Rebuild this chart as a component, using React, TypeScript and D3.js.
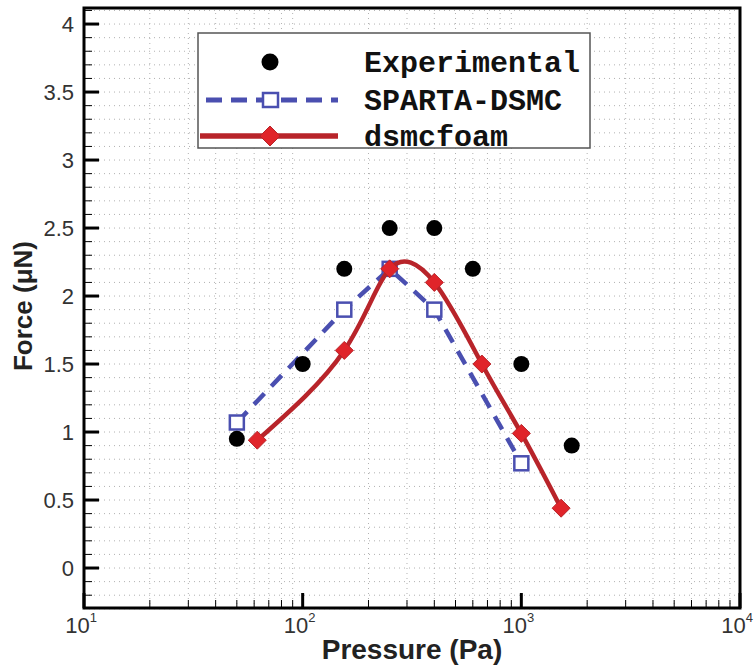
import React from "react";
import * as d3 from "d3";

const expX = [50, 100, 155, 250, 400, 600, 1000, 1700];
const expY = [0.95, 1.5, 2.2, 2.5, 2.5, 2.2, 1.5, 0.9];
const spartaX = [50, 155, 250, 400, 1000];
const spartaY = [1.07, 1.9, 2.2, 1.9, 0.77];
const foamX = [62, 155, 250, 400, 660, 1000, 1520];
const foamY = [0.94, 1.6, 2.2, 2.1, 1.5, 0.99, 0.44];
const yTicks = [0, 0.5, 1, 1.5, 2, 2.5, 3, 3.5, 4];
const xTickExps = [1, 2, 3, 4];
const legendLabels = ["Experimental", "SPARTA-DSMC", "dsmcfoam"];

const W = 756, H = 668;
const L = 84, R = 740, T = 8, B = 608;

export default function App() {
  const x = d3.scaleLog().domain([10, 10000]).range([L, R]);
  const y = d3.scaleLinear().domain([-0.294, 4.118]).range([B, T]);

  const xMinor: number[] = [];
  for (let e = 1; e < 4; e++) for (let k = 2; k <= 9; k++) xMinor.push(k * Math.pow(10, e));
  const yMinor: number[] = d3.range(-2, 42).map((i) => i / 10).filter((v) => Math.abs(v * 2 - Math.round(v * 2)) > 1e-6);

  const lineSparta = d3.line<number>().x((_, i) => x(spartaX[i])).y((d) => y(d));
  const lineFoam = d3.line<number>().x((_, i) => x(foamX[i])).y((d) => y(d)).curve(d3.curveNatural);

  const blue = "#4a4fb0";
  const red = "#b8242a";
  const redFill = "#e0242a";
  const tickColor = "#333";

  const diamond = (cx: number, cy: number, r: number) =>
    `M${cx},${cy - r}L${cx + r},${cy}L${cx},${cy + r}L${cx - r},${cy}Z`;

  const legX = 198, legY = 33, legW = 392, legH = 115;
  const rowY = [62, 100, 136];

  return (
    <svg width={W} height={H} style={{ position: "absolute", left: 0, top: 0, background: "#fff" }}>
      <rect x={0} y={0} width={W} height={H} fill="#fff" />
      {/* grid */}
      <g stroke="#8a8a8a" strokeWidth={1} strokeDasharray="1 4" opacity={0.65}>
        {xMinor.map((v) => (
          <line key={"gx" + v} x1={x(v)} x2={x(v)} y1={T} y2={B} />
        ))}
        {d3.range(-3, 42).map((i) => i / 10).map((v) => (
          <line key={"gy" + v} x1={L} x2={R} y1={y(v)} y2={y(v)} />
        ))}
      </g>
      {/* ticks */}
      <g stroke="#000">
        {yTicks.map((v) => (
          <line key={"yt" + v} x1={L} x2={L + 15} y1={y(v)} y2={y(v)} strokeWidth={3} />
        ))}
        {yMinor.map((v) => (
          <line key={"ym" + v} x1={L} x2={L + 8} y1={y(v)} y2={y(v)} strokeWidth={1} />
        ))}
        {xTickExps.map((e) => (
          <line key={"xt" + e} x1={x(Math.pow(10, e))} x2={x(Math.pow(10, e))} y1={B} y2={B - 15} strokeWidth={3} />
        ))}
        {xMinor.map((v) => (
          <line key={"xm" + v} x1={x(v)} x2={x(v)} y1={B} y2={B - 8} strokeWidth={1} />
        ))}
      </g>
      <rect x={L} y={T} width={R - L} height={B - T} fill="none" stroke="#000" strokeWidth={3} />
      {/* tick labels */}
      <g fontFamily="Liberation Sans, Arial, sans-serif" fill={tickColor} fontSize={22}>
        {yTicks.map((v) => (
          <text key={"yl" + v} x={L - 10} y={y(v)} dy="0.36em" textAnchor="end">
            {String(v)}
          </text>
        ))}
        {xTickExps.map((e) => (
          <text key={"xl" + e} x={x(Math.pow(10, e)) - 3} y={B + 25} textAnchor="middle">
            10
            <tspan fontSize={13} dy={-11}>{e}</tspan>
          </text>
        ))}
      </g>
      {/* axis titles */}
      <text x={412} y={659} textAnchor="middle" fontFamily="Liberation Sans, Arial, sans-serif" fontWeight="bold" fontSize={28} fill="#222">
        Pressure (Pa)
      </text>
      <text transform={`translate(32,306) rotate(-90)`} textAnchor="middle" fontFamily="Liberation Sans, Arial, sans-serif" fontWeight="bold" fontSize={26} fill="#222">
        Force (μN)
      </text>
      {/* SPARTA */}
      <path d={lineSparta(spartaY) || ""} fill="none" stroke={blue} strokeWidth={4.5} strokeDasharray="15 10" />
      {spartaY.map((v, i) => (
        <rect key={"sp" + i} x={x(spartaX[i]) - 7} y={y(v) - 7} width={14} height={14} fill="#fff" stroke={blue} strokeWidth={2.5} />
      ))}
      {/* Experimental */}
      {expY.map((v, i) => (
        <circle key={"ex" + i} cx={x(expX[i])} cy={y(v)} r={8} fill="#000" />
      ))}
      {/* dsmcfoam */}
      <path d={lineFoam(foamY) || ""} fill="none" stroke={red} strokeWidth={4.5} />
      {foamY.map((v, i) => (
        <path key={"fm" + i} d={diamond(x(foamX[i]), y(v), 9)} fill={redFill} stroke={red} strokeWidth={1} />
      ))}
      {/* legend */}
      <rect x={legX} y={legY} width={legW} height={legH} fill="#fff" stroke="#555" strokeWidth={1.5} />
      <circle cx={270} cy={rowY[0]} r={8.5} fill="#000" />
      <line x1={legX + 2} x2={338} y1={rowY[1]} y2={rowY[1]} stroke={blue} strokeWidth={5} strokeDasharray="16 9" strokeDashoffset={-6} />
      <rect x={263} y={rowY[1] - 7} width={15} height={14} fill="#fff" stroke={blue} strokeWidth={2.5} />
      <line x1={legX + 2} x2={338} y1={rowY[2]} y2={rowY[2]} stroke={red} strokeWidth={5.5} />
      <path d={diamond(270, rowY[2], 10)} fill={redFill} stroke={red} strokeWidth={1} />
      <g fontFamily="Liberation Mono, Courier New, monospace" fontWeight="bold" fontSize={30} fill="#111">
        {legendLabels.map((t, i) => (
          <text key={t} x={364} y={rowY[i]} dy="0.33em">
            {t}
          </text>
        ))}
      </g>
    </svg>
  );
}
